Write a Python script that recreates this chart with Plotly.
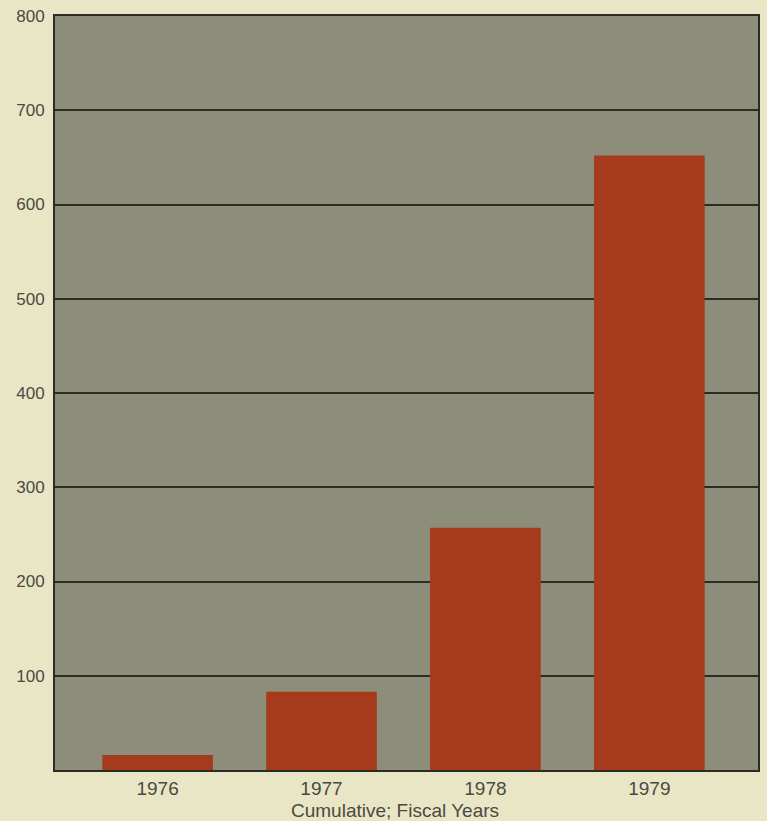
import plotly.graph_objects as go

# Cumulative totals by fiscal year
years = [1976, 1977, 1978, 1979]
cumulative = [16, 83, 257, 652]
year_labels = ["1976", "1977", "1978", "1979"]
y_ticks = [100, 200, 300, 400, 500, 600, 700, 800]

paper_color = "#e9e6c6"
plot_color = "#8d8e7a"
bar_color = "#a63a1c"
line_color = "#2c2c24"
text_color = "#4a4a42"
font_family = "Liberation Sans, Arial, sans-serif"

fig = go.Figure(
    go.Bar(
        x=years,
        y=cumulative,
        width=0.675,
        marker=dict(color=bar_color, line=dict(width=0)),
        hoverinfo="x+y",
    )
)

fig.update_layout(
    width=767,
    height=821,
    margin=dict(l=55, r=7, t=16, b=51),
    paper_bgcolor=paper_color,
    plot_bgcolor=plot_color,
    showlegend=False,
    font=dict(family=font_family, size=18, color=text_color),
    xaxis=dict(
        range=[1975.374, 1979.663],
        tickmode="array",
        tickvals=years,
        ticktext=year_labels,
        showgrid=False,
        zeroline=False,
        showline=True,
        linecolor=line_color,
        linewidth=2,
        mirror=True,
        ticks="",
        tickfont=dict(size=19, color=text_color),
    ),
    yaxis=dict(
        range=[0, 800],
        tickmode="array",
        tickvals=y_ticks,
        ticktext=[str(v) for v in y_ticks],
        showgrid=True,
        gridcolor=line_color,
        gridwidth=2,
        zeroline=False,
        showline=True,
        linecolor=line_color,
        linewidth=2,
        mirror=True,
        ticks="outside",
        ticklen=5,
        tickcolor="rgba(0,0,0,0)",
        tickfont=dict(size=17, color=text_color),
    ),
    annotations=[
        dict(
            text="Cumulative; Fiscal Years",
            xref="paper",
            yref="paper",
            x=0.483,
            y=-0.054,
            xanchor="center",
            yanchor="middle",
            showarrow=False,
            font=dict(family=font_family, size=19, color=text_color),
        )
    ],
)

fig.write_html("out.html")
